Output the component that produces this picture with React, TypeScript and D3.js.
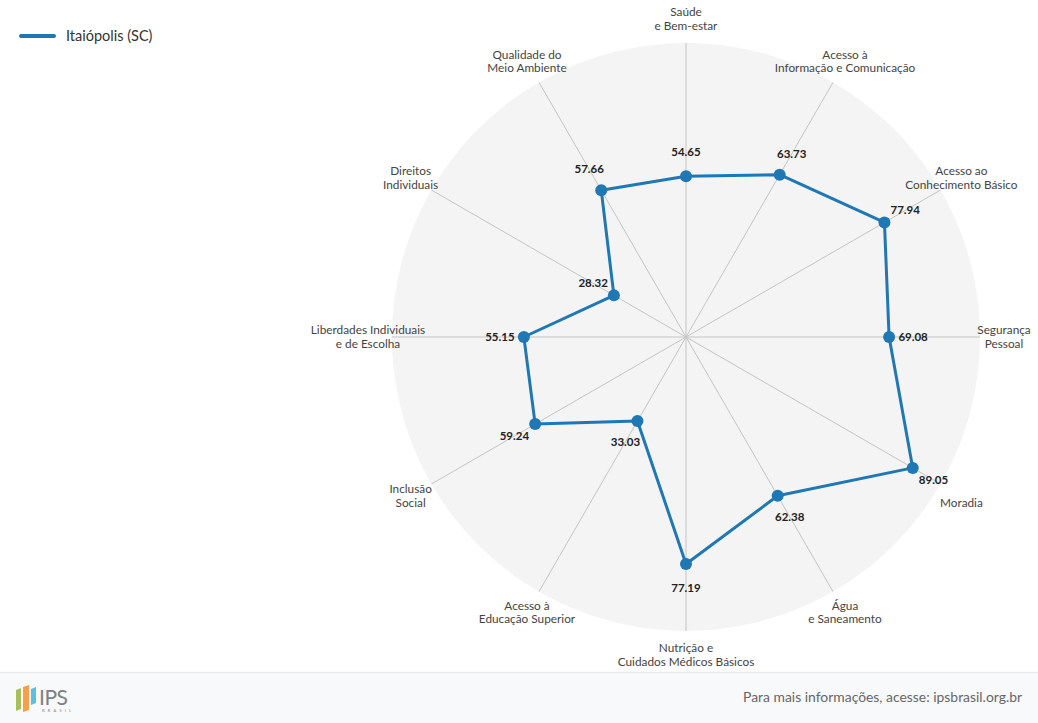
import { useEffect } from 'react'
import * as d3 from 'd3'

const categoryLines: string[][] = [
  ['Saúde', 'e Bem-estar'],
  ['Acesso à', 'Informação e Comunicação'],
  ['Acesso ao', 'Conhecimento Básico'],
  ['Segurança', 'Pessoal'],
  ['Moradia'],
  ['Água', 'e Saneamento'],
  ['Nutrição e', 'Cuidados Médicos Básicos'],
  ['Acesso à', 'Educação Superior'],
  ['Inclusão', 'Social'],
  ['Liberdades Individuais', 'e de Escolha'],
  ['Direitos', 'Individuais'],
  ['Qualidade do', 'Meio Ambiente'],
]

const seriesName = 'Itaiópolis (SC)'
const seriesValues = [54.65, 63.73, 77.94, 69.08, 89.05, 62.38, 77.19, 33.03, 59.24, 55.15, 28.32, 57.66]

const WIDTH = 1038
const HEIGHT = 723
const CX = 686
const CY = 337
const RADIUS = 294
const BLUE = '#1f77b4'
const FONT = 'Lato, "Noto Sans", sans-serif'

export default function App() {
  useEffect(() => {
    document.body.style.margin = '0'
  }, [])

  const n = categoryLines.length
  const angle = d3.scaleLinear().domain([0, n]).range([0, 2 * Math.PI])
  const r = d3.scaleLinear().domain([0, 100]).range([0, RADIUS])

  const pt = (i: number, rad: number): [number, number] => {
    const a = angle(i)
    return [CX + rad * Math.sin(a), CY - rad * Math.cos(a)]
  }

  const points = seriesValues.map((v, i) => pt(i, r(v)))
  const line = d3.line().curve(d3.curveLinearClosed)

  return (
    <svg width={WIDTH} height={HEIGHT} style={{ display: 'block', fontFamily: FONT }}>
      <rect width={WIDTH} height={HEIGHT} fill="#fff" />

      {/* legend */}
      <line x1={21} x2={54} y1={36} y2={36} stroke={BLUE} strokeWidth={4} strokeLinecap="round" />
      <text x={66} y={36} dy="0.35em" fontSize={14.5} fill="#333">{seriesName}</text>

      {/* radar background */}
      <circle cx={CX} cy={CY} r={RADIUS} fill="#f4f4f4" />
      {categoryLines.map((_, i) => {
        const [x, y] = pt(i, RADIUS)
        return <line key={i} x1={CX} y1={CY} x2={x} y2={y} stroke="#c4c4c4" strokeWidth={1} />
      })}

      {/* axis labels: two-line block centred on the label point, single lines take the lower slot */}
      {categoryLines.map((lines, i) => {
        const [x, y] = pt(i, 318)
        const lh = 13.5
        const y0 = y - lh / 2 + (2 - lines.length) * lh
        return (
          <text key={i} x={x} y={y0} textAnchor="middle" fontSize={11.8} fill="#444">
            {lines.map((l, j) => (
              <tspan key={j} x={x} y={y0 + j * lh} dy="0.35em">{l}</tspan>
            ))}
          </text>
        )
      })}

      {/* series */}
      <path d={line(points) ?? ''} fill="none" stroke={BLUE} strokeWidth={3} strokeLinejoin="round" />
      {points.map(([x, y], i) => (
        <circle key={i} cx={x} cy={y} r={6} fill={BLUE} />
      ))}
      {seriesValues.map((v, i) => {
        const [x, y] = pt(i, r(v) + 24)
        return (
          <text key={i} x={x} y={y} dy="0.35em" textAnchor="middle" fontSize={11.5} fontWeight={700} fill="#222">
            {v.toFixed(2)}
          </text>
        )
      })}

      {/* footer */}
      <rect x={0} y={672} width={WIDTH} height={HEIGHT - 672} fill="#f8f9fa" />
      <line x1={0} x2={WIDTH} y1={672.5} y2={672.5} stroke="#e9ecef" strokeWidth={1.5} />
      <g>
        <polygon points="16,690 21,688 21,709 16,711" fill="#a8c05a" />
        <polygon points="23,687 29,685 29,710 23,712" fill="#f5a04a" />
        <polygon points="31,689 36,687 36,703 31,705" fill="#5bc0de" />
        <text x={39} y={705} fontSize={21} fill="#808080" letterSpacing={-0.5}>IPS</text>
        <text x={42} y={712} fontSize={4} fill="#808080" letterSpacing={3.2}>BRASIL</text>
      </g>
      <text x={1022} y={697} dy="0.35em" textAnchor="end" fontSize={13.9} fill="#666">
        Para mais informações, acesse: ipsbrasil.org.br
      </text>
    </svg>
  )
}
